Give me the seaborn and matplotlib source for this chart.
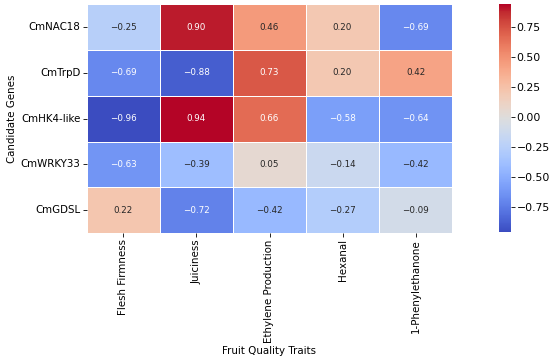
import matplotlib
matplotlib.use("Agg")
import matplotlib.pyplot as plt
import numpy as np
import pandas as pd
import seaborn as sns

genes = ["CmNAC18", "CmTrpD", "CmHK4-like", "CmWRKY33", "CmGDSL"]
traits = ["Flesh Firmness", "Juiciness", "Ethylene Production", "Hexanal", "1-Phenylethanone"]
corr = [
    [-0.25, 0.90, 0.46, 0.20, -0.69],
    [-0.69, -0.88, 0.73, 0.20, 0.42],
    [-0.96, 0.94, 0.66, -0.58, -0.64],
    [-0.63, -0.39, 0.05, -0.14, -0.42],
    [0.22, -0.72, -0.42, -0.27, -0.09],
]
cbar_ticks = [-0.75, -0.50, -0.25, 0.00, 0.25, 0.50, 0.75]

df = pd.DataFrame(corr, index=genes, columns=traits)
# annotation strings with a proper minus sign
labels = df.map(lambda v: f"{v:.2f}".replace("-", "\u2212"))

fig = plt.figure(figsize=(5.5, 3.63), dpi=100)
ax = fig.add_axes([0.158, 0.358, 0.664, 0.63])
cax = fig.add_axes([0.908, 0.36, 0.021, 0.628])

sns.heatmap(df, ax=ax, cbar_ax=cax, cmap="coolwarm", annot=labels, fmt="",
            linewidths=0.6, linecolor="white", annot_kws={"size": 6.3})

ax.set_xlabel("Fruit Quality Traits", fontsize=7.4, labelpad=2)
ax.set_ylabel("Candidate Genes", fontsize=7.4, labelpad=2.5)
ax.tick_params(axis="both", labelsize=7.4, length=2.6, width=0.6, pad=2)
plt.setp(ax.get_xticklabels(), rotation=90)
plt.setp(ax.get_yticklabels(), rotation=0)

cax.set_yticks(cbar_ticks)
cax.set_yticklabels([f"{t:.2f}".replace("-", "\u2212") for t in cbar_ticks])
cax.tick_params(labelsize=7.8, length=2.6, width=0.6, pad=1.5)

fig.savefig("out.png", dpi=100)
